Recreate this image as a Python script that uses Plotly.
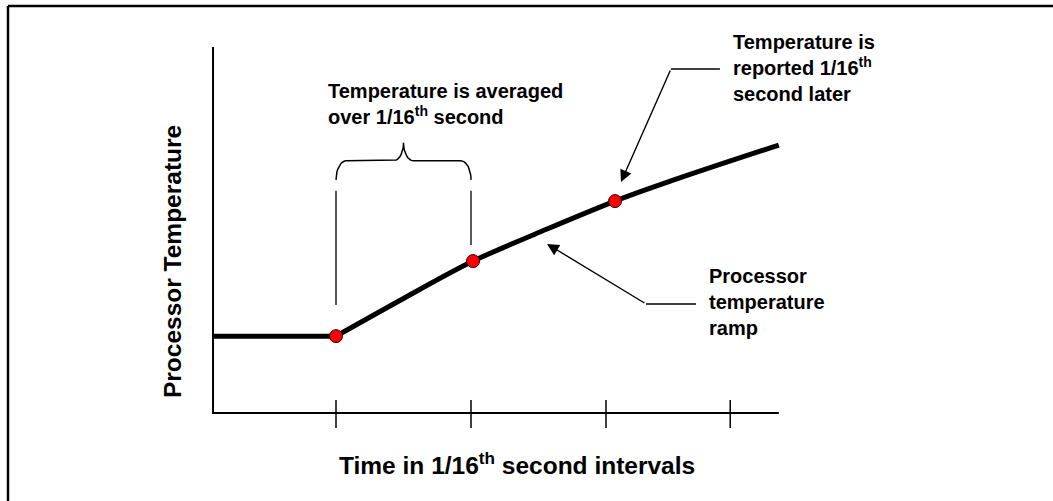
import numpy as np
import plotly.graph_objects as go

# ---- data (time in 1/16 s intervals, temperature in arbitrary units) ----
flat_time = [0.089, 1.0]
flat_temp = [21.0, 21.0]
ramp_time = [1.0, 1.5, 2.015, 2.55, 3.067, 3.6, 4.28]
ramp_temp = [21.0, 31.3, 41.5, 50.05, 57.9, 64.9, 73.2]
sample_time = [1.0, 2.015, 3.067]
sample_temp = [21.0, 41.5, 57.9]
tick_time = [1.0, 2.0, 3.0, 3.92]
axis_x_start, axis_x_end = 0.089, 4.28
axis_y_top = 100.0

label_avg = "<b>Temperature is averaged<br>over 1/16<sup>th</sup> second</b>"
label_rep = "<b>Temperature is<br>reported 1/16<sup>th</sup><br>second later</b>"
label_ramp = "<b>Processor<br>temperature<br>ramp</b>"
x_title = "<b>Time in 1/16<sup>th</sup> second intervals</b>"
y_title = "<b>Processor Temperature</b>"

W, H = 1053, 501
FONT = "Liberation Sans, Arial, sans-serif"
LBL = 20
TTL = 24.5

fig = go.Figure()

# axes lines
fig.add_trace(go.Scatter(x=[axis_x_start, axis_x_start, axis_x_end], y=[axis_y_top, 0, 0],
                         mode="lines", line=dict(color="black", width=2), hoverinfo="skip"))
# tick marks crossing the axis
tx, ty = [], []
for t in tick_time:
    tx += [t, t, None]
    ty += [3.55, -4.1, None]
fig.add_trace(go.Scatter(x=tx, y=ty, mode="lines", line=dict(color="black", width=1.5), hoverinfo="skip"))

# temperature curve
fig.add_trace(go.Scatter(x=flat_time, y=flat_temp, mode="lines",
                         line=dict(color="black", width=5), hoverinfo="skip"))
fig.add_trace(go.Scatter(x=ramp_time, y=ramp_temp, mode="lines",
                         line=dict(color="black", width=5, shape="spline", smoothing=0.8), hoverinfo="skip"))

# averaging window guide lines
fig.add_trace(go.Scatter(x=[tick_time[0], tick_time[0], None, tick_time[1], tick_time[1]],
                         y=[60.7, 29.5, None, 60.7, 45.9], mode="lines",
                         line=dict(color="black", width=1.3), hoverinfo="skip"))

# curly brace over the averaging window
x0, x1 = tick_time[0], tick_time[1]
xm = (x0 + x1) / 2
y_end, y_bar, y_peak = 63.7, 68.9, 73.8
rx = 0.075
ang = np.linspace(0, np.pi / 2, 12)
bx, by = [], []
bx += list(x0 + rx - rx * np.cos(ang)); by += list(y_end + (y_bar - y_end) * np.sin(ang))
bx += list(xm - rx + rx * np.sin(ang)); by += list(y_bar + (y_peak - y_bar) * (1 - np.cos(ang)))
bx += list(xm + rx * (1 - np.sin(ang[::-1]))); by += list(y_bar + (y_peak - y_bar) * (1 - np.cos(ang[::-1])))
bx += list(x1 - rx + rx * np.sin(ang)); by += list(y_bar - (y_bar - y_end) * (1 - np.cos(ang)))
fig.add_trace(go.Scatter(x=bx, y=by, mode="lines", line=dict(color="black", width=1.5), hoverinfo="skip"))

# leader lines (horizontal part of the callouts)
fig.add_trace(go.Scatter(x=[3.844, 3.481, None, 3.667, 3.296], y=[94.0, 94.0, None, 29.8, 29.8],
                         mode="lines", line=dict(color="black", width=1.5), hoverinfo="skip"))

# sample points
fig.add_trace(go.Scatter(x=sample_time, y=sample_temp, mode="markers",
                         marker=dict(color="#ff0000", size=13, line=dict(color="#330000", width=1)),
                         hoverinfo="skip"))

annotations = [
    dict(x=3.111, y=63.1, ax=3.481, ay=94.0, xref="x", yref="y", axref="x", ayref="y",
         text="", showarrow=True, arrowhead=2, arrowsize=1.7, arrowwidth=1.4, arrowcolor="black"),
    dict(x=2.563, y=46.2, ax=3.296, ay=29.8, xref="x", yref="y", axref="x", ayref="y",
         text="", showarrow=True, arrowhead=2, arrowsize=1.7, arrowwidth=1.4, arrowcolor="black"),
    dict(x=0.925, y=84.3, xref="x", yref="y", text=label_avg, showarrow=False,
         xanchor="left", yanchor="middle", align="left", font=dict(size=LBL, color="black", family=FONT)),
    dict(x=3.925, y=94.3, xref="x", yref="y", text=label_rep, showarrow=False,
         xanchor="left", yanchor="middle", align="left", font=dict(size=LBL, color="black", family=FONT)),
    dict(x=3.748, y=30.3, xref="x", yref="y", text=label_ramp, showarrow=False,
         xanchor="left", yanchor="middle", align="left", font=dict(size=LBL, color="black", family=FONT)),
    dict(x=2.341, y=-13.66, xref="x", yref="y", text=x_title, showarrow=False,
         xanchor="center", yanchor="middle", font=dict(size=TTL, color="black", family=FONT)),
    dict(x=-0.207, y=41.26, xref="x", yref="y", text=y_title, showarrow=False, textangle=-90,
         xanchor="center", yanchor="middle", font=dict(size=TTL, color="black", family=FONT)),
]

shapes = [
    dict(type="line", xref="paper", yref="paper", x0=8 / W, x1=1.0, y0=1 - 6 / H, y1=1 - 6 / H,
         line=dict(color="black", width=2.5)),
    dict(type="line", xref="paper", yref="paper", x0=8 / W, x1=8 / W, y0=1 - 6 / H, y1=0,
         line=dict(color="black", width=2.5)),
]

fig.update_layout(
    width=W, height=H, margin=dict(l=0, r=0, t=0, b=0),
    paper_bgcolor="white", plot_bgcolor="white", showlegend=False,
    xaxis=dict(range=[1 - 336 / 135, 1 + (W - 336) / 135], visible=False, fixedrange=True),
    yaxis=dict(range=[(413 - H) / 3.66, 413 / 3.66], visible=False, fixedrange=True),
    annotations=annotations, shapes=shapes,
)

fig.write_html("out.html", config={"displayModeBar": False},
               post_script="document.body.style.margin='0';document.body.style.overflow='hidden';")
